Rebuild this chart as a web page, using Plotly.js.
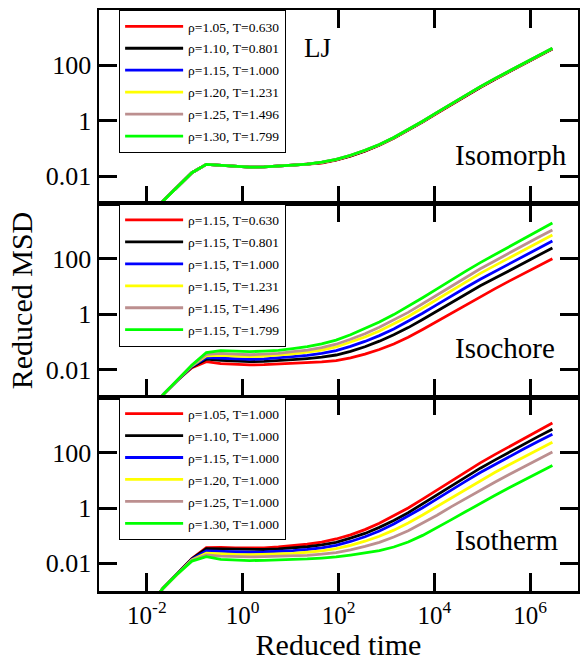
<!DOCTYPE html>
<html>
<head>
<meta charset="utf-8">
<script src="https://cdn.plot.ly/plotly-3.0.1.min.js"></script>
<style>
html,body{margin:0;padding:0;background:#fff;}
#chart{width:580px;height:661px;}
</style>
</head>
<body>
<div id="chart"></div>
<script>
// Reduced time (shared by all curves)
const time = [0.00272, 0.00544, 0.01088, 0.02176, 0.04352, 0.08704, 0.1741, 0.3482, 0.6963, 1.393,
  2.785, 5.571, 11.14, 22.28, 44.57, 89.13, 178.3, 356.5, 713.1, 1426,
  2852, 5704, 11409, 22817, 45634, 91268, 182536, 365072, 730144, 1460288, 2920577];

// log10(Reduced MSD)
// --- Isomorph panel ---
const isomorph_red    = [-4.75,-4.15,-3.55,-2.90,-2.38,-1.88,-1.58,-1.61,-1.65,-1.68,-1.67,-1.65,-1.61,-1.57,-1.53,-1.43,-1.28,-1.10,-0.89,-0.64,-0.36,-0.05,0.27,0.59,0.90,1.20,1.49,1.77,2.05,2.32,2.59];
const isomorph_black  = [-4.75,-4.15,-3.55,-2.90,-2.38,-1.88,-1.58,-1.61,-1.65,-1.68,-1.67,-1.65,-1.61,-1.57,-1.52,-1.42,-1.27,-1.09,-0.88,-0.63,-0.35,-0.04,0.28,0.60,0.91,1.21,1.50,1.78,2.06,2.33,2.60];
const isomorph_blue   = [-4.75,-4.15,-3.55,-2.90,-2.38,-1.88,-1.58,-1.61,-1.65,-1.68,-1.67,-1.65,-1.61,-1.57,-1.51,-1.41,-1.26,-1.08,-0.87,-0.62,-0.34,-0.03,0.29,0.61,0.92,1.22,1.51,1.79,2.07,2.34,2.61];
const isomorph_yellow = [-4.75,-4.15,-3.55,-2.90,-2.38,-1.88,-1.58,-1.61,-1.65,-1.68,-1.67,-1.65,-1.61,-1.57,-1.51,-1.41,-1.26,-1.08,-0.87,-0.62,-0.34,-0.03,0.29,0.61,0.92,1.22,1.51,1.79,2.07,2.34,2.61];
const isomorph_brown  = [-4.75,-4.15,-3.55,-2.90,-2.38,-1.88,-1.58,-1.61,-1.65,-1.68,-1.67,-1.65,-1.61,-1.57,-1.50,-1.40,-1.25,-1.07,-0.86,-0.61,-0.33,-0.02,0.30,0.62,0.93,1.23,1.52,1.80,2.08,2.35,2.62];
const isomorph_green  = [-4.75,-4.15,-3.55,-2.90,-2.38,-1.88,-1.58,-1.61,-1.65,-1.68,-1.67,-1.65,-1.61,-1.57,-1.50,-1.40,-1.25,-1.07,-0.86,-0.61,-0.33,-0.02,0.30,0.62,0.93,1.23,1.52,1.80,2.08,2.35,2.62];

// --- Isochore panel ---
const isochore_red    = [-4.75,-4.15,-3.55,-2.90,-2.38,-1.93,-1.71,-1.78,-1.81,-1.83,-1.82,-1.80,-1.77,-1.75,-1.72,-1.67,-1.57,-1.44,-1.27,-1.07,-0.83,-0.55,-0.25,0.05,0.35,0.64,0.92,1.20,1.47,1.74,2.01];
const isochore_black  = [-4.75,-4.15,-3.55,-2.90,-2.38,-1.90,-1.62,-1.66,-1.69,-1.71,-1.70,-1.68,-1.64,-1.60,-1.55,-1.47,-1.34,-1.17,-0.97,-0.74,-0.48,-0.19,0.12,0.43,0.73,1.03,1.30,1.58,1.86,2.13,2.40];
const isochore_blue   = [-4.75,-4.15,-3.55,-2.90,-2.38,-1.88,-1.56,-1.58,-1.61,-1.63,-1.61,-1.58,-1.53,-1.48,-1.41,-1.31,-1.16,-0.98,-0.77,-0.53,-0.26,0.04,0.35,0.67,0.97,1.27,1.55,1.83,2.11,2.38,2.65];
const isochore_yellow = [-4.75,-4.15,-3.55,-2.90,-2.38,-1.86,-1.50,-1.48,-1.51,-1.53,-1.51,-1.48,-1.43,-1.37,-1.29,-1.18,-1.01,-0.82,-0.60,-0.35,-0.08,0.23,0.54,0.87,1.17,1.48,1.76,2.04,2.33,2.60,2.87];
const isochore_brown  = [-4.75,-4.15,-3.55,-2.90,-2.38,-1.85,-1.45,-1.41,-1.44,-1.46,-1.44,-1.41,-1.35,-1.29,-1.20,-1.08,-0.90,-0.70,-0.47,-0.21,0.07,0.38,0.70,1.03,1.34,1.65,1.93,2.22,2.50,2.78,3.05];
const isochore_green  = [-4.75,-4.15,-3.55,-2.90,-2.38,-1.83,-1.38,-1.31,-1.33,-1.35,-1.33,-1.30,-1.24,-1.17,-1.07,-0.93,-0.74,-0.52,-0.28,-0.01,0.28,0.60,0.92,1.25,1.56,1.87,2.16,2.45,2.74,3.02,3.30];

// --- Isotherm panel ---
const isotherm_red    = [-4.75,-4.15,-3.55,-2.90,-2.38,-1.83,-1.43,-1.42,-1.44,-1.45,-1.44,-1.41,-1.37,-1.31,-1.23,-1.12,-0.97,-0.78,-0.55,-0.29,0.00,0.32,0.65,0.99,1.31,1.63,1.93,2.22,2.51,2.79,3.07];
const isotherm_black  = [-4.75,-4.15,-3.55,-2.90,-2.38,-1.84,-1.47,-1.48,-1.50,-1.51,-1.50,-1.48,-1.44,-1.40,-1.33,-1.24,-1.09,-0.92,-0.70,-0.45,-0.17,0.15,0.47,0.81,1.12,1.44,1.73,2.02,2.30,2.58,2.85];
const isotherm_blue   = [-4.75,-4.15,-3.55,-2.90,-2.38,-1.86,-1.55,-1.57,-1.59,-1.60,-1.59,-1.57,-1.54,-1.50,-1.44,-1.35,-1.21,-1.04,-0.83,-0.58,-0.30,0.01,0.33,0.66,0.97,1.28,1.57,1.85,2.13,2.40,2.67];
const isotherm_yellow = [-4.75,-4.15,-3.55,-2.90,-2.38,-1.88,-1.63,-1.66,-1.68,-1.69,-1.68,-1.66,-1.64,-1.60,-1.55,-1.47,-1.35,-1.20,-1.02,-0.80,-0.54,-0.25,0.06,0.38,0.69,0.99,1.28,1.56,1.84,2.11,2.38];
const isotherm_brown  = [-4.75,-4.15,-3.55,-2.90,-2.38,-1.90,-1.70,-1.74,-1.76,-1.77,-1.76,-1.75,-1.73,-1.71,-1.67,-1.61,-1.51,-1.39,-1.24,-1.05,-0.82,-0.55,-0.26,0.05,0.35,0.65,0.93,1.21,1.48,1.75,2.02];
const isotherm_green  = [-4.75,-4.15,-3.55,-2.90,-2.38,-1.92,-1.76,-1.86,-1.89,-1.90,-1.89,-1.88,-1.86,-1.84,-1.81,-1.77,-1.70,-1.63,-1.54,-1.41,-1.23,-0.99,-0.72,-0.42,-0.13,0.17,0.45,0.73,1.00,1.27,1.54];

// Legend labels
const isomorph_labels = ['ρ=1.05, T=0.630','ρ=1.10, T=0.801','ρ=1.15, T=1.000','ρ=1.20, T=1.231','ρ=1.25, T=1.496','ρ=1.30, T=1.799'];
const isochore_labels = ['ρ=1.15, T=0.630','ρ=1.15, T=0.801','ρ=1.15, T=1.000','ρ=1.15, T=1.231','ρ=1.15, T=1.496','ρ=1.15, T=1.799'];
const isotherm_labels = ['ρ=1.05, T=1.000','ρ=1.10, T=1.000','ρ=1.15, T=1.000','ρ=1.20, T=1.000','ρ=1.25, T=1.000','ρ=1.30, T=1.000'];
const panel_names = ['Isomorph','Isochore','Isotherm'];
const x_title = 'Reduced time';
const y_title = 'Reduced MSD';

// Axis ticks
const x_tickvals = [1e-2, 1e0, 1e2, 1e4, 1e6];
const x_ticktext = ['10<sup>-2</sup>','10<sup>0</sup>','10<sup>2</sup>','10<sup>4</sup>','10<sup>6</sup>'];
const y_tickvals = [0.01, 1, 100];
const y_ticktext = ['0.01','1','100'];

const colors = ['#ff0000','#000000','#0000ff','#ffff00','#bc8f8f','#00ff00'];
const FONT = 'Liberation Serif, Times New Roman, serif';

const panels = [
  {series:[isomorph_red,isomorph_black,isomorph_blue,isomorph_yellow,isomorph_brown,isomorph_green], labels:isomorph_labels, xa:'x', ya:'y', lg:'legend'},
  {series:[isochore_red,isochore_black,isochore_blue,isochore_yellow,isochore_brown,isochore_green], labels:isochore_labels, xa:'x2', ya:'y2', lg:'legend2'},
  {series:[isotherm_red,isotherm_black,isotherm_blue,isotherm_yellow,isotherm_brown,isotherm_green], labels:isotherm_labels, xa:'x3', ya:'y3', lg:'legend3'}
];

const traces = [];
panels.forEach((p, pi) => {
  p.series.forEach((s, i) => {
    traces.push({
      x: time,
      y: s.map(v => Math.pow(10, v)),
      type: 'scatter', mode: 'lines',
      name: p.labels[i],
      legendgroup: 'g' + pi + '_' + i,
      line: {color: colors[i], width: 2.8},
      xaxis: p.xa, yaxis: p.ya, legend: p.lg
    });
  });
});

function xax(showLabels, anchor) {
  return {
    type:'log', range:[-3, 7], anchor: anchor,
    tickvals: x_tickvals, ticktext: x_ticktext,
    showticklabels: showLabels,
    ticks:'inside', ticklen:18, tickwidth:3, tickcolor:'#000',
    showline:true, linecolor:'#000', linewidth:2.5, mirror:'ticks',
    showgrid:false, zeroline:false,
    tickfont:{family:FONT, size:25, color:'#000'}
  };
}
function yax(domain, anchor) {
  return {
    type:'log', range:[-3, 4], domain: domain, anchor: anchor,
    tickvals: y_tickvals, ticktext: y_ticktext,
    ticks:'inside', ticklen:18, tickwidth:3, tickcolor:'#000',
    showline:true, linecolor:'#000', linewidth:2.5, mirror:'ticks',
    showgrid:false, zeroline:false,
    tickfont:{family:FONT, size:26, color:'#000'}
  };
}

function legendAt(y) {
  return {
    x:0.042, y:y, xanchor:'left', yanchor:'top',
    bgcolor:'#ffffff', bordercolor:'#000', borderwidth:1,
    font:{family:FONT, size:13.5, color:'#000'},
    itemwidth:58, tracegroupgap:1.4
  };
}

const layout = {
  width:580, height:661,
  margin:{l:99, r:2, t:10, b:70},
  paper_bgcolor:'#fff', plot_bgcolor:'#fff',
  font:{family:FONT, color:'#000'},
  showlegend:true,
  xaxis: xax(false, 'y'),
  xaxis2: xax(false, 'y2'),
  xaxis3: Object.assign(xax(true, 'y3'), {title:{text:x_title, font:{family:FONT, size:30, color:'#000'}, standoff:4}}),
  yaxis: yax([2/3, 1], 'x'),
  yaxis2: Object.assign(yax([1/3, 2/3], 'x2'), {title:{text:y_title, font:{family:FONT, size:30, color:'#000'}, standoff:5}}),
  yaxis3: yax([0, 1/3], 'x3'),
  legend: legendAt(1),
  legend2: legendAt(2/3),
  legend3: legendAt(1/3),
  annotations: [
    {text:'LJ', xref:'paper', yref:'paper', x:0.424, y:0.935, xanchor:'left', yanchor:'middle', showarrow:false, font:{family:FONT, size:27, color:'#000'}},
    {text:panel_names[0], xref:'paper', yref:'paper', x:0.981, y:0.750, xanchor:'right', yanchor:'middle', showarrow:false, font:{family:FONT, size:29, color:'#000'}},
    {text:panel_names[1], xref:'paper', yref:'paper', x:0.956, y:0.418, xanchor:'right', yanchor:'middle', showarrow:false, font:{family:FONT, size:29, color:'#000'}},
    {text:panel_names[2], xref:'paper', yref:'paper', x:0.9645, y:0.088, xanchor:'right', yanchor:'middle', showarrow:false, font:{family:FONT, size:29, color:'#000'}}
  ]
};

Plotly.newPlot('chart', traces, layout, {displayModeBar:false, staticPlot:true});
</script>
</body>
</html>
